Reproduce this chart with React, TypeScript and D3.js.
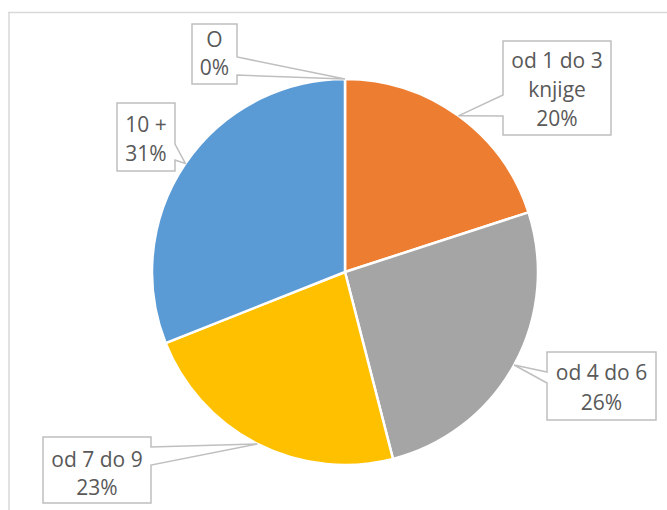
import React from "react";
import * as d3 from "d3";

const categories = ["O", "od 1 do 3 knjige", "od 4 do 6", "od 7 do 9", "10 +"];
const labelLines = [["O"], ["od 1 do 3", "knjige"], ["od 4 do 6"], ["od 7 do 9"], ["10 +"]];
const values = [0, 20, 26, 23, 31];
const colors = ["#5B9BD5", "#ED7D31", "#A5A5A5", "#FFC000", "#5B9BD5"];

// callout box layout (page px)
const boxes = [
  { x: 192, y: 24, w: 45, h: 60, side: "right", p1: 57, p2: 75, base: [47, 75] },
  { x: 503, y: 41, w: 108, h: 94, side: "left", p1: 95, p2: 116, base: [68, 97, 126] },
  { x: 547, y: 352, w: 109, h: 68, side: "left", p1: 372, p2: 383, base: [380, 410] },
  { x: 43, y: 437, w: 108, h: 66, side: "right", p1: 447, p2: 465, base: [467, 495] },
  { x: 117, y: 103, w: 58, h: 68, side: "right", p1: 144, p2: 160, base: [132, 161] },
];

const W = 667, H = 510;
const cx = 345, cy = 272, R = 193;

export default function App() {
  const total = d3.sum(values);
  const pie = d3.pie<number>().sort(null).value((d) => d)(values);
  const arc = d3.arc<d3.PieArcDatum<number>>().innerRadius(0).outerRadius(R);
  const edge = d3.arc<d3.PieArcDatum<number>>().innerRadius(R).outerRadius(R);
  const font = "'Open Sans', 'Liberation Sans', sans-serif";
  return (
    <svg width={W} height={H} style={{ position: "absolute", left: 0, top: 0, background: "#fff" }}>
      <path d={`M8,12.5H${W} M9,12V${H}`} stroke="#D9D9D9" strokeWidth={1.5} fill="none" />
      <g transform={`translate(${cx},${cy})`}>
        {pie.map((p, i) => (
          <path key={i} d={arc(p) || ""} fill={colors[i]} stroke="#fff" strokeWidth={2.5} strokeLinejoin="round" />
        ))}
      </g>
      {pie.map((p, i) => {
        const b = boxes[i];
        const [ex, ey] = edge.centroid(p);
        const tx = cx + ex, ty = cy + ey;
        let d: string;
        if (b.side === "right") {
          d = `M${b.x},${b.y}H${b.x + b.w}V${b.p1}L${tx},${ty}L${b.x + b.w},${b.p2}V${b.y + b.h}H${b.x}Z`;
        } else {
          d = `M${b.x},${b.y}H${b.x + b.w}V${b.y + b.h}H${b.x}V${b.p2}L${tx},${ty}L${b.x},${b.p1}Z`;
        }
        const lines = [...labelLines[i], `${Math.round((values[i] / total) * 100)}%`];
        return (
          <g key={"l" + i}>
            <path d={d} fill="#fff" stroke="#BFBFBF" strokeWidth={1.5} strokeLinejoin="miter" />
            {lines.map((t, j) => (
              <text key={j} x={b.x + b.w / 2} y={b.base[j]} textAnchor="middle" fontFamily={font} fontSize={21} fill="#595959">
                {t}
              </text>
            ))}
          </g>
        );
      })}
    </svg>
  );
}
